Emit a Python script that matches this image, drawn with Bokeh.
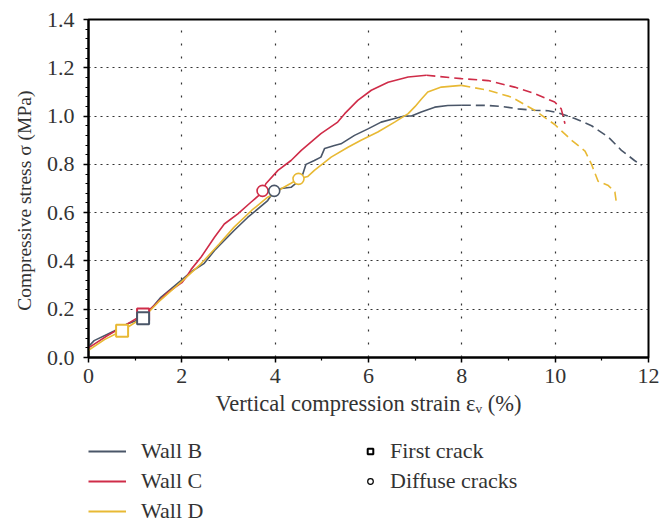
from bokeh.plotting import figure
from bokeh.layouts import column
from bokeh.models import (Legend, LegendItem, Range1d, FixedTicker,
                          PrintfTickFormatter)
from bokeh.embed import file_html
from bokeh.resources import INLINE

# Stress-strain curves (strain in %, stress in MPa); solid = pre-peak, dashed = post-peak
wall_b_x = [0, 0.12, 0.55, 0.84, 1.17, 1.55, 1.98, 2.2, 2.48, 2.7, 3.12, 3.41, 3.84, 3.98,
            4.13, 4.34, 4.56, 4.66, 4.84, 4.98, 5.06, 5.27, 5.41, 5.7, 6.0, 6.27, 6.56,
            6.77, 6.92, 7.13, 7.42, 7.7, 8.0]
wall_b_y = [0.045, 0.07, 0.11, 0.14, 0.163, 0.249, 0.318, 0.355, 0.39, 0.443, 0.526, 0.58,
            0.65, 0.69, 0.70, 0.705, 0.74, 0.80, 0.816, 0.83, 0.866, 0.878, 0.885, 0.92,
            0.948, 0.975, 0.99, 1.0, 1.0, 1.017, 1.037, 1.044, 1.045]
wall_b_post_x = [8.0, 8.56, 8.85, 9.2, 9.56, 9.85, 10.06, 10.42, 10.78, 11.14, 11.42, 11.7, 11.85]
wall_b_post_y = [1.045, 1.044, 1.04, 1.03, 1.024, 1.022, 1.014, 0.99, 0.96, 0.913, 0.858, 0.816, 0.795]

wall_c_x = [0, 0.4, 0.8, 1.17, 1.41, 1.7, 2.0, 2.12, 2.2, 2.41, 2.7, 2.91, 3.2, 3.48, 3.73,
            3.8, 4.06, 4.34, 4.56, 4.98, 5.34, 5.49, 5.77, 6.06, 6.42, 6.85, 7.24]
wall_c_y = [0.04, 0.09, 0.135, 0.178, 0.215, 0.27, 0.31, 0.34, 0.365, 0.415, 0.498, 0.553,
            0.595, 0.643, 0.685, 0.72, 0.775, 0.816, 0.858, 0.927, 0.975, 1.01, 1.065, 1.107,
            1.14, 1.162, 1.169]
wall_c_post_x = [7.24, 7.99, 8.56, 9.13, 9.56, 9.99, 10.13, 10.21]
wall_c_post_y = [1.169, 1.155, 1.147, 1.12, 1.093, 1.058, 1.03, 0.968]

wall_d_x = [0, 0.35, 0.72, 1.2, 1.5, 2.0, 2.41, 2.8, 3.12, 3.5, 3.84, 3.98, 4.13, 4.34, 4.5,
            4.7, 4.84, 5.2, 5.56, 5.84, 6.2, 6.56, 6.85, 7.0, 7.13, 7.27, 7.56, 7.99]
wall_d_y = [0.03, 0.075, 0.111, 0.17, 0.23, 0.315, 0.388, 0.47, 0.54, 0.61, 0.664, 0.678,
            0.699, 0.722, 0.74, 0.75, 0.775, 0.83, 0.871, 0.9, 0.934, 0.975, 1.01, 1.04,
            1.07, 1.1, 1.12, 1.127]
wall_d_post_x = [7.99, 8.56, 9.06, 9.56, 9.99, 10.35, 10.64, 10.78, 10.92, 11.14, 11.28, 11.32]
wall_d_post_y = [1.127, 1.107, 1.079, 1.024, 0.965, 0.9, 0.855, 0.8, 0.73, 0.712, 0.685, 0.63]

# Crack events: [Wall B, Wall C, Wall D]
first_crack_x = [1.17, 1.17, 0.72]
first_crack_y = [0.163, 0.178, 0.111]
diffuse_x = [3.98, 3.73, 4.5]
diffuse_y = [0.69, 0.69, 0.74]

walls = ["Wall B", "Wall C", "Wall D"]
colors = ["#4a5668", "#cf2c48", "#e8b934"]

x_ticks = [0, 2, 4, 6, 8, 10, 12]
x_minor = [1, 3, 5, 7, 9, 11]
y_ticks = [0.0, 0.2, 0.4, 0.6, 0.8, 1.0, 1.2, 1.4]
y_minor = [round(0.04 * i, 2) for i in range(36)]

FONT = "Liberation Serif"
TEXT = "#333333"
NBSP = "\u00a0"

p = figure(width=660, height=430, output_backend="svg", toolbar_location=None,
           x_range=Range1d(0, 12), y_range=Range1d(0, 1.4),
           min_border_left=88, min_border_right=12, min_border_top=19,
           min_border_bottom=73, background_fill_color="white",
           border_fill_color="white")

p.outline_line_color = "black"
p.outline_line_width = 2

p.xaxis.ticker = FixedTicker(ticks=x_ticks, minor_ticks=x_minor)
p.yaxis.ticker = FixedTicker(ticks=y_ticks, minor_ticks=y_minor)
p.yaxis.formatter = PrintfTickFormatter(format="%.1f")

for ax in (p.xaxis[0], p.yaxis[0]):
    ax.axis_line_color = "black"
    ax.axis_line_width = 2
    ax.major_tick_line_color = "black"
    ax.minor_tick_line_color = "black"
    ax.major_tick_line_width = 1.5
    ax.minor_tick_line_width = 1.2
    ax.major_tick_in = 0
    ax.major_tick_out = 5
    ax.minor_tick_in = 0
    ax.minor_tick_out = 3
    ax.major_label_text_font = FONT
    ax.major_label_text_font_size = "22px"
    ax.major_label_text_color = TEXT
    ax.axis_label_text_font = FONT
    ax.axis_label_text_font_style = "normal"
    ax.axis_label_text_color = TEXT

p.xaxis.axis_label = "Vertical compression strain εᵥ (%)"
# trailing no-break spaces nudge the rotated title a little lower
p.yaxis.axis_label = "Compressive stress σ (MPa)" + NBSP * 5
p.xaxis.axis_label_text_font_size = "22.5px"
p.yaxis.axis_label_text_font_size = "19.5px"
p.xaxis.major_label_standoff = 6
p.yaxis.major_label_standoff = 9
p.xaxis.axis_label_standoff = 5
p.yaxis.axis_label_standoff = 9

p.xgrid.grid_line_color = "#333333"
p.xgrid.grid_line_dash = "2 11"
p.xgrid.grid_line_width = 1.2
p.ygrid.grid_line_color = "#333333"
p.ygrid.grid_line_dash = "2 4"
p.ygrid.grid_line_width = 1.2

series = [
    (wall_b_x, wall_b_y, wall_b_post_x, wall_b_post_y),
    (wall_c_x, wall_c_y, wall_c_post_x, wall_c_post_y),
    (wall_d_x, wall_d_y, wall_d_post_x, wall_d_post_y),
]

for (xs, ys, pxs, pys), c in zip(series, colors):
    p.line(xs, ys, line_color=c, line_width=1.6)
    p.line(pxs, pys, line_color=c, line_width=1.6, line_dash="9 5")

# Crack markers, drawn so Wall B sits on top of Wall C
for i in [2, 1, 0]:
    p.scatter([first_crack_x[i]], [first_crack_y[i]], marker="square", size=12,
              line_color=colors[i], line_width=2, fill_color="white")
    p.scatter([diffuse_x[i]], [diffuse_y[i]], marker="circle", size=11,
              line_color=colors[i], line_width=1.6, fill_color="white")

# Key panel under the chart; its frame lines up with the chart frame (88..648)
q = figure(width=660, height=92, output_backend="svg", toolbar_location=None,
           x_axis_type=None, y_axis_type=None, min_border_left=88,
           min_border_right=12, min_border_top=0, min_border_bottom=0,
           x_range=Range1d(0, 1), y_range=Range1d(0, 1),
           background_fill_color="white", border_fill_color="white")
q.outline_line_color = None

# key renderers sit outside the visible range: only their legend swatches show
off = [-5, -4]
key_lines = [q.line(off, off, line_color=c, line_width=1.8) for c in colors]
sq_key = q.scatter([-5], [-5], marker="square", size=9, line_color="black",
                   line_width=2, fill_color="white")
ci_key = q.scatter([-5], [-5], marker="circle", size=8, line_color="black",
                   line_width=1.2, fill_color="white")

common = dict(background_fill_alpha=0, border_line_alpha=0, padding=0, margin=0,
              spacing=4, label_text_font=FONT, label_text_font_size="22px",
              label_text_color=TEXT, label_height=26, glyph_height=26)

legend_walls = Legend(items=[LegendItem(label=w, renderers=[r])
                             for w, r in zip(walls, key_lines)],
                      location=(0, -2), glyph_width=38, label_standoff=15,
                      **common)
legend_cracks = Legend(items=[LegendItem(label="First crack", renderers=[sq_key]),
                              LegendItem(label="Diffuse cracks", renderers=[ci_key])],
                       location=(275, 28), glyph_width=14, label_standoff=13,
                       **common)
q.add_layout(legend_walls)
q.add_layout(legend_cracks)

layout = column(p, q, spacing=0)
open("out.html", "w").write(file_html(layout, INLINE))
